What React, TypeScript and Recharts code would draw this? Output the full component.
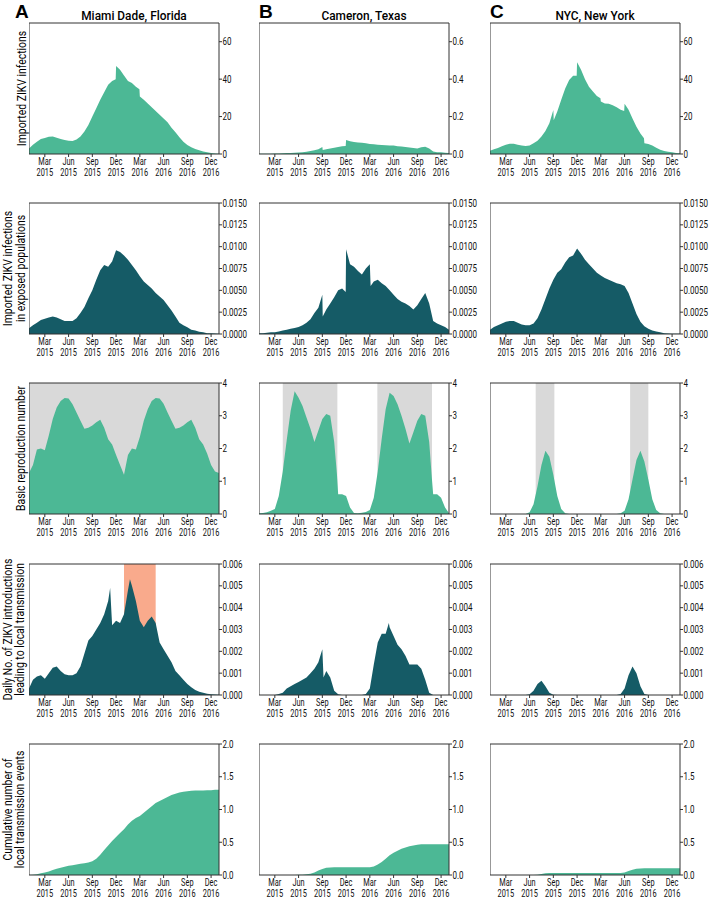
import React from "react";
import { AreaChart, Area, XAxis, YAxis, ReferenceArea } from "recharts";

// months since 1 Jan 2015, sampled every half month (0 .. 24)
const MONTH_TICKS = [2, 5, 8, 11, 14, 17, 20, 23];
const MONTH_NAMES = ["Mar", "Jun", "Sep", "Dec", "Mar", "Jun", "Sep", "Dec"];
const TICK_YEARS = ["2015", "2015", "2015", "2015", "2016", "2016", "2016", "2016"];

const COUNTIES = ["Miami Dade, Florida", "Cameron, Texas", "NYC, New York"];
const PANEL_LETTERS = ["A", "B", "C"];

// row 1: imported ZIKV infections
const miamiImported = [3, 5, 6.5, 8, 8.5, 9.2, 9.3, 8.7, 8, 7.5, 7.1, 7, 7.8, 9.3, 12, 15.5, 20, 24.5, 29, 33, 37, 39, 47, 45, 42, 39, 38, 36, 30.7, 29, 27, 25, 23, 21, 19, 17, 14, 11.6, 9, 6.6, 4.8, 3.6, 2.7, 2, 1.4, 0.9, 0.5, 0.3, 0.2];
const miamiImportedJumps: [number, number][] = [[10.95, 40], [13.95, 34.6]];
const cameronImported = [0.001, 0.001, 0.002, 0.002, 0.003, 0.003, 0.004, 0.005, 0.006, 0.007, 0.008, 0.01, 0.012, 0.016, 0.02, 0.026, 0.038, 0.026, 0.03, 0.034, 0.038, 0.042, 0.075, 0.068, 0.064, 0.062, 0.06, 0.058, 0.054, 0.052, 0.05, 0.048, 0.047, 0.046, 0.045, 0.042, 0.04, 0.037, 0.035, 0.032, 0.03, 0.036, 0.039, 0.03, 0.013, 0.01, 0.009, 0.007, 0.005];
const cameronImportedJumps: [number, number][] = [[8.05, 0.021], [10.95, 0.043]];
const nycImported = [1.8, 2.5, 3.2, 4.1, 5, 5.5, 5.5, 5, 4.5, 4.3, 4.6, 5.7, 7.1, 9.3, 12.3, 16.4, 23.5, 22.7, 29, 35, 39.6, 41.8, 49, 45, 40, 36, 33.4, 31, 28, 27, 26.8, 26, 25, 23.6, 26.8, 23.6, 19, 14.6, 11, 5.7, 5.4, 4.5, 3.4, 2.3, 1.6, 1.2, 1, 0.6, 0.4];
const nycImportedJumps: [number, number][] = [[8.05, 18], [10.95, 41.8], [13.95, 29.8], [16.95, 23], [19.45, 8.4]];

// row 2: imported infections in exposed populations
const miamiExposed = [0.00065, 0.001, 0.0013, 0.0016, 0.00175, 0.0019, 0.002, 0.0019, 0.0017, 0.0015, 0.0015, 0.0015, 0.0018, 0.0024, 0.0031, 0.0041, 0.005, 0.0062, 0.0073, 0.0079, 0.0077, 0.0083, 0.0096, 0.0094, 0.009, 0.0085, 0.0079, 0.0073, 0.0066, 0.006, 0.0056, 0.0052, 0.0047, 0.0043, 0.0039, 0.0033, 0.0027, 0.002, 0.0013, 0.001, 0.00076, 0.0005, 0.0004, 0.00027, 0.0002, 0.0001, 0.00008, 0.00005, 0.00003];
const cameronExposed = [0.0001, 0.0001, 0.00015, 0.0002, 0.0002, 0.0003, 0.0004, 0.0005, 0.0006, 0.0007, 0.0008, 0.001, 0.0013, 0.0017, 0.0024, 0.003, 0.0045, 0.0028, 0.0035, 0.0042, 0.005, 0.0052, 0.0097, 0.008, 0.0077, 0.0072, 0.0068, 0.0075, 0.008, 0.006, 0.0062, 0.0058, 0.0055, 0.005, 0.0045, 0.004, 0.0037, 0.0035, 0.0032, 0.0028, 0.0033, 0.004, 0.0047, 0.0035, 0.0015, 0.0012, 0.001, 0.0008, 0.0005];
const cameronExposedJumps: [number, number][] = [[8.05, 0.002], [10.95, 0.0048], [14.1, 0.0055]];
const nycExposed = [0.0005, 0.0008, 0.001, 0.0012, 0.0014, 0.0015, 0.0015, 0.0013, 0.0011, 0.001, 0.001, 0.0012, 0.0018, 0.0028, 0.004, 0.0052, 0.0062, 0.007, 0.0074, 0.0082, 0.0088, 0.009, 0.0098, 0.0092, 0.0085, 0.008, 0.0075, 0.007, 0.0067, 0.0064, 0.0062, 0.006, 0.0058, 0.0057, 0.0055, 0.0047, 0.0035, 0.0023, 0.0014, 0.0009, 0.0006, 0.0004, 0.0003, 0.0002, 0.0001, 0.00005, 0.00003, 0.00003, 0.00003];

// row 3: basic reproduction number
const miamiR0 = [1.25, 1.5, 1.97, 2.0, 1.95, 2.4, 2.9, 3.25, 3.45, 3.54, 3.53, 3.35, 3.1, 2.85, 2.6, 2.63, 2.7, 2.8, 2.88, 2.63, 2.28, 2.12, 1.8, 1.5, 1.2, 1.8, 2.0, 1.97, 2.35, 2.85, 3.2, 3.45, 3.54, 3.53, 3.37, 3.1, 2.85, 2.6, 2.63, 2.7, 2.8, 2.88, 2.63, 2.28, 2.12, 1.85, 1.5, 1.3, 1.25];
const cameronR0 = [0.02, 0.03, 0.05, 0.1, 0.15, 0.55, 1.3, 2.25, 3.15, 3.75, 3.55, 3.3, 2.95, 2.6, 2.2, 2.55, 2.9, 3.05, 3.0, 2.2, 0.6, 0.6, 0.55, 0.2, 0.03, 0.02, 0.04, 0.06, 0.12, 0.5, 1.3, 2.3, 3.2, 3.7, 3.6, 3.35, 3.0, 2.6, 2.15, 2.5, 2.85, 3.05, 3.0, 2.2, 0.6, 0.6, 0.5, 0.2, 0.02];
const cameronR0Drops: [number, number][] = [[9.85, 1.2], [21.8, 1.2]];
const nycR0 = [0, 0, 0, 0, 0, 0, 0, 0, 0, 0, 0.05, 0.3, 0.85, 1.5, 1.93, 1.75, 1.2, 0.55, 0.15, 0.02, 0, 0, 0, 0, 0, 0, 0, 0, 0, 0, 0, 0, 0, 0.02, 0.1, 0.45, 1.05, 1.65, 1.93, 1.6, 1.05, 0.45, 0.12, 0.02, 0, 0, 0, 0, 0];
// months where R0 > 1 (grey shading)
const miamiR0Above1: [number, number][] = [[0, 24]];
const cameronR0Above1: [number, number][] = [[3.0, 9.9], [14.95, 21.85]];
const nycR0Above1: [number, number][] = [[5.77, 8.13], [17.7, 20.0]];

// row 4: daily introductions leading to local transmission
const miamiDaily = [0.0003, 0.0007, 0.00085, 0.0009, 0.00075, 0.001, 0.00125, 0.0013, 0.0011, 0.00095, 0.0009, 0.0009, 0.001, 0.0013, 0.0019, 0.0025, 0.0027, 0.003, 0.0033, 0.0037, 0.0043, 0.0032, 0.0034, 0.0033, 0.0037, 0.0048, 0.005, 0.0043, 0.0034, 0.0031, 0.0034, 0.0036, 0.0033, 0.0024, 0.0021, 0.0018, 0.0015, 0.0011, 0.0009, 0.0007, 0.0005, 0.00035, 0.00023, 0.00015, 0.0001, 0.00006, 0.00003, 0.00002, 0.00001];
const miamiDailyPeaks: [number, number][] = [[10.25, 0.0049], [12.75, 0.0053]];
const miamiHighlight: [number, number][] = [[12, 16]];
const cameronDaily = [0, 0, 0, 0, 0, 0.00005, 0.0001, 0.0003, 0.0004, 0.0005, 0.0006, 0.0007, 0.0008, 0.001, 0.0012, 0.0015, 0.0021, 0.0011, 0.0008, 0.0002, 0.00003, 0, 0, 0, 0, 0, 0, 0.00005, 0.0003, 0.0014, 0.0024, 0.0028, 0.0028, 0.0031, 0.0027, 0.0023, 0.0021, 0.0018, 0.0014, 0.0014, 0.0014, 0.0012, 0.0007, 0.0001, 0, 0, 0, 0, 0];
const cameronDailyPeaks: [number, number][] = [[8.15, 0.0008], [16.4, 0.0033]];
const nycDaily = [0, 0, 0, 0, 0, 0, 0, 0, 0, 0, 0.00003, 0.0002, 0.0005, 0.00065, 0.0004, 0.0001, 0.00001, 0, 0, 0, 0, 0, 0, 0, 0, 0, 0, 0, 0, 0, 0, 0, 0, 0.00005, 0.0003, 0.0009, 0.0013, 0.001, 0.0004, 0.00005, 0, 0, 0, 0, 0, 0, 0, 0, 0];

// row 5: cumulative local transmission events
const miamiCumulative = [0, 0.005, 0.012, 0.025, 0.04, 0.055, 0.075, 0.095, 0.11, 0.125, 0.14, 0.15, 0.16, 0.17, 0.18, 0.19, 0.21, 0.25, 0.31, 0.38, 0.45, 0.52, 0.58, 0.64, 0.7, 0.77, 0.83, 0.87, 0.9, 0.95, 1.0, 1.05, 1.1, 1.13, 1.16, 1.19, 1.22, 1.24, 1.26, 1.27, 1.28, 1.285, 1.29, 1.29, 1.29, 1.295, 1.295, 1.3, 1.3];
const cameronCumulative = [0, 0, 0, 0, 0, 0, 0, 0, 0, 0, 0.002, 0.005, 0.01, 0.02, 0.04, 0.07, 0.09, 0.11, 0.115, 0.12, 0.12, 0.12, 0.12, 0.12, 0.12, 0.12, 0.12, 0.12, 0.12, 0.13, 0.16, 0.2, 0.25, 0.3, 0.34, 0.37, 0.4, 0.42, 0.44, 0.45, 0.46, 0.47, 0.47, 0.47, 0.47, 0.47, 0.47, 0.47, 0.47];
const nycCumulative = [0, 0, 0, 0, 0, 0, 0, 0, 0, 0, 0, 0, 0.005, 0.015, 0.025, 0.03, 0.032, 0.032, 0.032, 0.032, 0.032, 0.032, 0.032, 0.032, 0.032, 0.032, 0.032, 0.032, 0.032, 0.032, 0.032, 0.032, 0.032, 0.032, 0.04, 0.06, 0.08, 0.095, 0.1, 0.102, 0.102, 0.102, 0.102, 0.102, 0.102, 0.102, 0.102, 0.102, 0.102];

const GREEN = "#4cb895";
const TEAL = "#155b66";
const GRAY = "#d9d9d9";
const SALMON = "#f9aa8c";
const FRAME = "#333";
const INK = "#111";
const FONT = "Roboto, sans-serif";

const PLOT_W = 190;
const PLOT_H = 131;
const TOP_PAD = 6;
const COL_X = [29, 259, 490];
const ROW_Y = [23, 203, 383, 564, 744];

type Pt = { t: number; v: number };

function toSeries(values: number[], extra: [number, number][] = []): Pt[] {
  const pts = values.map((v, i) => ({ t: i / 2, v }));
  extra.forEach(([t, v]) => pts.push({ t, v }));
  return pts.sort((a, b) => a.t - b.t);
}

function MonthTick(props: any) {
  const { x, y, payload } = props;
  const i = MONTH_TICKS.indexOf(payload.value);
  return (
    <g transform={`translate(${x},${y}) scale(0.74,1)`}>
      <text x={0} y={0} textAnchor="middle" fontSize={10} fill={INK} fontFamily={FONT}>
        <tspan x={0} dy="0.68em">{MONTH_NAMES[i]}</tspan>
        <tspan x={0} dy="1.04em">{TICK_YEARS[i]}</tspan>
      </text>
    </g>
  );
}

function ValueTick(props: any) {
  const { x, y, payload, fmt } = props;
  return (
    <g transform={`translate(${x},${y}) scale(0.8,1)`}>
      <text x={0} y={0} dy="0.36em" textAnchor="start" fontSize={10} fill={INK} fontFamily={FONT}>
        {fmt(payload.value)}
      </text>
    </g>
  );
}

type PanelProps = {
  data: Pt[];
  color: string;
  max: number;
  ticks: number[];
  fmt: (v: number) => string;
  bands?: [number, number][];
  bandColor?: string;
};

function Panel({ data, color, max, ticks, fmt, bands = [], bandColor = GRAY }: PanelProps) {
  return (
    <AreaChart width={PLOT_W + 50} height={PLOT_H + 30 + TOP_PAD} data={data} margin={{ top: TOP_PAD, right: 0, bottom: 0, left: 0 }}>
      <XAxis
        dataKey="t"
        type="number"
        domain={[0, 24]}
        ticks={MONTH_TICKS}
        interval={0}
        tick={<MonthTick />}
        tickSize={3}
        tickMargin={1.5}
        axisLine={false}
        tickLine={{ stroke: FRAME }}
        height={30}
        allowDataOverflow
      />
      <YAxis
        orientation="right"
        type="number"
        domain={[0, max]}
        ticks={ticks}
        interval={0}
        width={50}
        tickSize={3}
        tickMargin={0.5}
        axisLine={false}
        tickLine={{ stroke: FRAME }}
        tick={<ValueTick fmt={fmt} />}
        allowDataOverflow
      />
      {bands.map(([a, b]) => (
        <ReferenceArea key={a} x1={a} x2={b} y1={0} y2={max} fill={bandColor} fillOpacity={1} stroke="none" />
      ))}
      <Area
        type="linear"
        dataKey="v"
        stroke="none"
        fill={color}
        fillOpacity={1}
        isAnimationActive={false}
        dot={false}
        activeDot={false}
      />
      <ReferenceArea x1={0} x2={24} y1={0} y2={max} fill="none" stroke={FRAME} strokeWidth={1} />
    </AreaChart>
  );
}

const intFmt = (v: number) => String(v);
const f1 = (v: number) => v.toFixed(1);
const f3 = (v: number) => v.toFixed(3);
const f4 = (v: number) => v.toFixed(4);

const TICKS_70 = [0, 20, 40, 60];
const TICKS_07 = [0, 0.2, 0.4, 0.6];
const TICKS_EXPOSED = [0, 0.0025, 0.005, 0.0075, 0.01, 0.0125, 0.015];
const TICKS_R0 = [0, 1, 2, 3, 4];
const TICKS_DAILY = [0, 0.001, 0.002, 0.003, 0.004, 0.005, 0.006];
const TICKS_CUM = [0, 0.5, 1, 1.5, 2];

const ROW_LABELS = [
  ["Imported ZIKV infections"],
  ["Imported ZIKV infections", "in exposed populations"],
  ["Basic reproduction number"],
  ["Daily No. of ZIKV introductions", "leading to local transmission"],
  ["Cumulative number of", "local transmission events"],
];
const LABEL_X = [[22], [8, 20.5], [20.5], [7.5, 20], [7.5, 20]];

export default function App() {
  const grid: PanelProps[][] = [
    [
      { data: toSeries(miamiImported, miamiImportedJumps), color: GREEN, max: 70, ticks: TICKS_70, fmt: intFmt },
      { data: toSeries(cameronImported, cameronImportedJumps), color: GREEN, max: 0.7, ticks: TICKS_07, fmt: f1 },
      { data: toSeries(nycImported, nycImportedJumps), color: GREEN, max: 70, ticks: TICKS_70, fmt: intFmt },
    ],
    [
      { data: toSeries(miamiExposed), color: TEAL, max: 0.015, ticks: TICKS_EXPOSED, fmt: f4 },
      { data: toSeries(cameronExposed, cameronExposedJumps), color: TEAL, max: 0.015, ticks: TICKS_EXPOSED, fmt: f4 },
      { data: toSeries(nycExposed), color: TEAL, max: 0.015, ticks: TICKS_EXPOSED, fmt: f4 },
    ],
    [
      { data: toSeries(miamiR0), color: GREEN, max: 4, ticks: TICKS_R0, fmt: intFmt, bands: miamiR0Above1 },
      { data: toSeries(cameronR0, cameronR0Drops), color: GREEN, max: 4, ticks: TICKS_R0, fmt: intFmt, bands: cameronR0Above1 },
      { data: toSeries(nycR0), color: GREEN, max: 4, ticks: TICKS_R0, fmt: intFmt, bands: nycR0Above1 },
    ],
    [
      { data: toSeries(miamiDaily, miamiDailyPeaks), color: TEAL, max: 0.006, ticks: TICKS_DAILY, fmt: f3, bands: miamiHighlight, bandColor: SALMON },
      { data: toSeries(cameronDaily, cameronDailyPeaks), color: TEAL, max: 0.006, ticks: TICKS_DAILY, fmt: f3 },
      { data: toSeries(nycDaily), color: TEAL, max: 0.006, ticks: TICKS_DAILY, fmt: f3 },
    ],
    [
      { data: toSeries(miamiCumulative), color: GREEN, max: 2, ticks: TICKS_CUM, fmt: f1 },
      { data: toSeries(cameronCumulative), color: GREEN, max: 2, ticks: TICKS_CUM, fmt: f1 },
      { data: toSeries(nycCumulative), color: GREEN, max: 2, ticks: TICKS_CUM, fmt: f1 },
    ],
  ];

  return (
    <div style={{ position: "absolute", left: 0, top: 0, width: 709, height: 898, background: "#fff", overflow: "hidden" }}>
      {grid.map((row, r) =>
        row.map((p, c) => (
          <div key={`${r}-${c}`} style={{ position: "absolute", left: COL_X[c], top: ROW_Y[r] - TOP_PAD }}>
            <Panel {...p} />
          </div>
        ))
      )}
      <svg width={709} height={898} style={{ position: "absolute", left: 0, top: 0, pointerEvents: "none" }}>
        {PANEL_LETTERS.map((l, c) => (
          <text key={l} x={c === 0 ? 15 : COL_X[c]} y={18} fontSize={19} fontWeight={700} fill="#000" fontFamily="'Liberation Sans', Arial, sans-serif">
            {l}
          </text>
        ))}
        {COUNTIES.map((name, c) => (
          <g key={name} transform={`translate(${COL_X[c] + PLOT_W / 2 + 10}, 20) scale(0.88,1)`}>
            <text x={0} y={0} textAnchor="middle" fontSize={13.5} fontWeight={500} fill="#000" fontFamily={FONT}>
              {name}
            </text>
          </g>
        ))}
        {ROW_LABELS.map((lines, r) =>
          lines.map((line, k) => (
            <text
              key={`${r}-${k}`}
              transform={`translate(${LABEL_X[r][k]}, ${ROW_Y[r] + PLOT_H / 2}) rotate(-90) scale(0.8,1)`}
              textAnchor="middle"
              dominantBaseline="central"
              fontSize={13}
              fill="#000"
              fontFamily={FONT}
            >
              {line}
            </text>
          ))
        )}
      </svg>
    </div>
  );
}
